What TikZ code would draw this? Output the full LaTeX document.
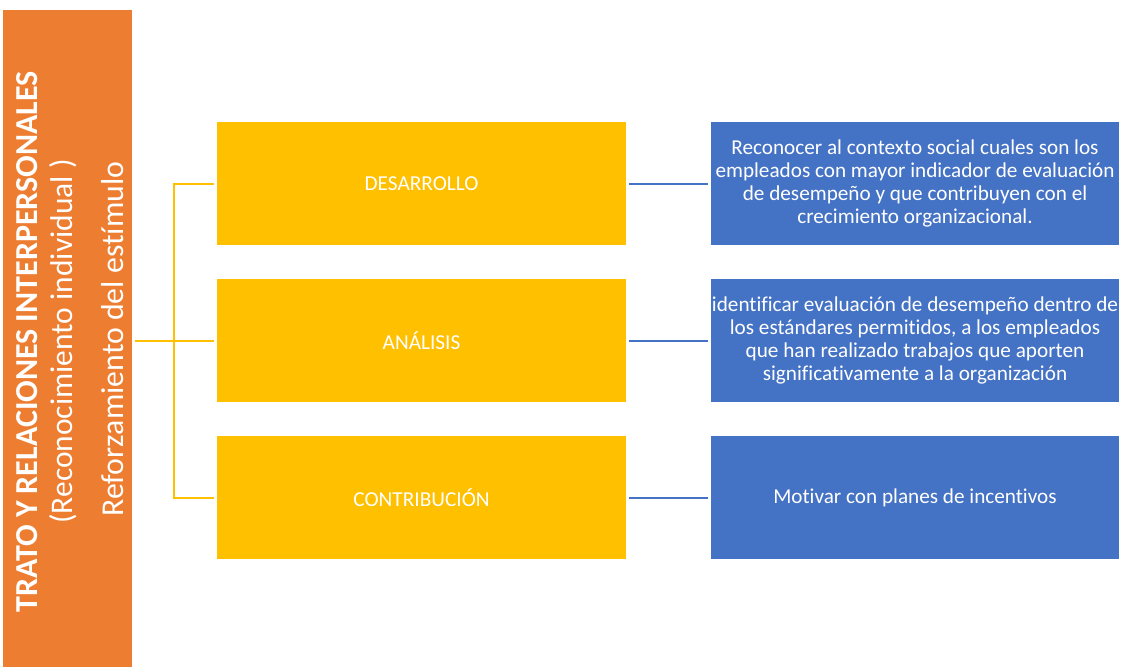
\documentclass[tikz,border=0pt]{standalone}
\usepackage{fontspec}
\setmainfont{Carlito}[Ligatures=NoCommon]
\definecolor{corange}{HTML}{ED7D31}
\definecolor{cyellow}{HTML}{FFC000}
\definecolor{cblue}{HTML}{4472C4}
\tikzset{
  ybox/.style={fill=cyellow, minimum width=409pt, minimum height=123pt, inner sep=0pt, text=white, font=\fontsize{21.3}{25}\selectfont},
  bbox/.style={fill=cblue, minimum width=408pt, minimum height=123pt, inner sep=0pt, text=white, align=center, font=\fontsize{21.2}{22.7}\selectfont},
  yline/.style={draw=cyellow, line width=2pt},
  bline/.style={draw=cblue, line width=2pt},
  vtext/.style={rotate=90, anchor=base, text=white, inner sep=0pt},
}
\begin{document}
\begin{tikzpicture}[x=1pt,y=-1pt]
\useasboundingbox (0,0) rectangle (1126,666);
\node[fill=corange, minimum width=129pt, minimum height=656pt, inner sep=0pt] (main) at (67,338.5) {};
\node[vtext, font=\fontsize{32}{36}\selectfont\bfseries] (t1) at (37,342) {TRATO Y RELACIONES INTERPERSONALES};
\node[vtext, font=\fontsize{31.5}{36}\selectfont] (t2) at (72,341.5) {(Reconocimiento individual )};
\node[vtext, font=\fontsize{31.8}{36}\selectfont] (t3) at (123,339) {Reforzamiento del estímulo};

\node[ybox] (d) at (421.5,183.5) {DESARROLLO};
\node[ybox] (a) at (421.5,340.5) {ANÁLISIS};
\node[ybox] (c) at (421.5,497.5) {CONTRIBUCIÓN};

\node[bbox] (r1) at (915,183.5) {Reconocer al contexto social cuales son los\\empleados con mayor indicador de evaluación\\de desempeño y que contribuyen con el\\crecimiento organizacional.};
\node[bbox] (r2) at (915,340.5) {identificar evaluación de desempeño dentro de\\los estándares permitidos, a los empleados\\que han realizado trabajos que aporten\\significativamente a la organización};
\node[bbox] (r3) at (915,497.5) {Motivar con planes de incentivos};

\coordinate (hub) at (174,341);
\draw[yline] ([xshift=3.5pt]main.east |- hub) -- ([xshift=-3pt]a.west |- hub);
\draw[yline] ([xshift=-3pt]d.west) -| (hub);
\draw[yline] ([xshift=-3pt]c.west) -| (hub);

\draw[bline] ([xshift=3pt]d.east) -- ([xshift=-3pt]r1.west);
\draw[bline] ([xshift=3pt]a.east) -- ([xshift=-3pt]r2.west);
\draw[bline] ([xshift=3pt]c.east) -- ([xshift=-3pt]r3.west);
\end{tikzpicture}
\end{document}
